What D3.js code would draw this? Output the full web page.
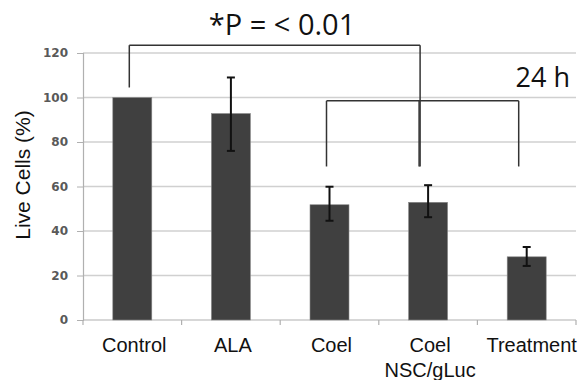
<!DOCTYPE html>
<html><head><meta charset="utf-8">
<script src="https://cdn.jsdelivr.net/npm/d3@7/dist/d3.min.js"></script>
<style>body{margin:0;background:#fff}svg{display:block}</style>
</head><body><svg width="583" height="380"></svg>
<script>
const categories = ["Control","ALA","Coel","Coel\nNSC/gLuc","Treatment"];
const values = [100, 92.8, 51.8, 52.9, 28.4];
const errLow = [100, 76, 44.6, 46.2, 24.3];
const errHigh = [100, 109, 59.9, 60.6, 32.8];
const yTicks = [0,20,40,60,80,100,120];
const brackets = [
  {from:0, to:3, y:123.5, legs:[[0, 104.5],[3, 69]]},
  {from:2, to:4, y:98.5, legs:[[2, 69],[3, 69],[4, 69]]}
];

const svg = d3.select("svg");
const m = {left:83, right:576, top:53, bottom:320};
const x = d3.scaleBand().domain(categories).range([m.left, m.right]).paddingInner(0).paddingOuter(0);
const y = d3.scaleLinear().domain([0,120]).range([m.bottom, m.top]);
const bw = 39;
const cx = c => x(c) + x.bandwidth()/2;

// gridlines
svg.append("g").selectAll("line").data(yTicks.slice(1)).join("line")
  .attr("x1", m.left).attr("x2", m.right)
  .attr("y1", d=>y(d)).attr("y2", d=>y(d))
  .attr("stroke","#d0d0d0").attr("stroke-width",1.5);

// y axis
const ya = svg.append("g").attr("transform",`translate(${m.left},0)`)
  .call(d3.axisLeft(y).tickValues(yTicks).tickSize(6).tickPadding(9));
ya.select(".domain").attr("stroke","#b0b0b0").attr("stroke-width",1.2);
ya.selectAll(".tick line").attr("stroke","#b0b0b0");
ya.selectAll("text").attr("font-family","DejaVu Sans, Verdana, sans-serif")
  .attr("font-size",12).attr("font-weight","bold").attr("fill","#595959");

// x axis
svg.append("line").attr("x1",m.left).attr("x2",m.right).attr("y1",y(0)).attr("y2",y(0))
  .attr("stroke","#b0b0b0").attr("stroke-width",1.2);
const bounds = categories.map(c=>x(c)).concat([m.right]);
svg.append("g").selectAll("line").data(bounds).join("line")
  .attr("x1",d=>d).attr("x2",d=>d).attr("y1",y(0)).attr("y2",y(0)+5)
  .attr("stroke","#b0b0b0").attr("stroke-width",1.2);

// bars
svg.append("g").selectAll("rect").data(categories).join("rect")
  .attr("x", c=>cx(c)-bw/2).attr("width", bw)
  .attr("y", (c,i)=>y(values[i])).attr("height",(c,i)=>y(0)-y(values[i]))
  .attr("fill","#404040").attr("stroke","#8a8a8a").attr("stroke-width",0.6);

// error bars
const eg = svg.append("g").attr("stroke","#111").attr("stroke-width",2);
categories.forEach((c,i)=>{
  if (errHigh[i]===errLow[i]) return;
  const X = cx(c);
  eg.append("line").attr("x1",X).attr("x2",X).attr("y1",y(errHigh[i])).attr("y2",y(errLow[i]));
  eg.append("line").attr("x1",X-4).attr("x2",X+4).attr("y1",y(errHigh[i])).attr("y2",y(errHigh[i]));
  eg.append("line").attr("x1",X-4).attr("x2",X+4).attr("y1",y(errLow[i])).attr("y2",y(errLow[i]));
});

// brackets
const bg = svg.append("g").attr("stroke","#333").attr("stroke-width",1.5).attr("fill","none");
brackets.forEach(b=>{
  const xa = cx(categories[b.from])-3, xb = cx(categories[b.to])-8;
  const px = i => i===b.from ? xa : (i===b.to ? xb : cx(categories[i])-9);
  bg.append("line").attr("x1",xa).attr("x2",xb).attr("y1",y(b.y)).attr("y2",y(b.y));
  b.legs.forEach(([i,v])=>{
    bg.append("line").attr("x1",px(i)).attr("x2",px(i)).attr("y1",y(b.y)).attr("y2",y(v));
  });
});

// category labels
const xl = svg.append("g").attr("font-family","Liberation Sans, Arial, sans-serif").attr("font-size",20).attr("fill","#111").attr("text-anchor","middle");
categories.forEach((c,i)=>{
  const lines = c.split("\n");
  const lx = cx(c) + (i===4 ? 5 : 2);
  const t = xl.append("text").attr("x", lx).attr("y", 352);
  lines.forEach((l,k)=>t.append("tspan").attr("x",lx).attr("dy",k?25:0).text(l));
});

// y title
svg.append("text").attr("transform",`translate(30,175) rotate(-90)`)
  .attr("text-anchor","middle").attr("font-family","Liberation Sans, Arial, sans-serif")
  .attr("font-size",21).attr("fill","#111").text("Live Cells (%)");

// annotations
svg.append("text").attr("x",282).attr("y",35).attr("text-anchor","middle")
  .attr("font-family","Open Sans, Liberation Sans, sans-serif").attr("font-size",29).attr("fill","#111")
  .text("*P = < 0.01");
svg.append("text").attr("x",570).attr("y",87).attr("text-anchor","end")
  .attr("font-family","Open Sans, Liberation Sans, sans-serif").attr("font-size",27).attr("fill","#111")
  .text("24 h");
</script></body></html>
